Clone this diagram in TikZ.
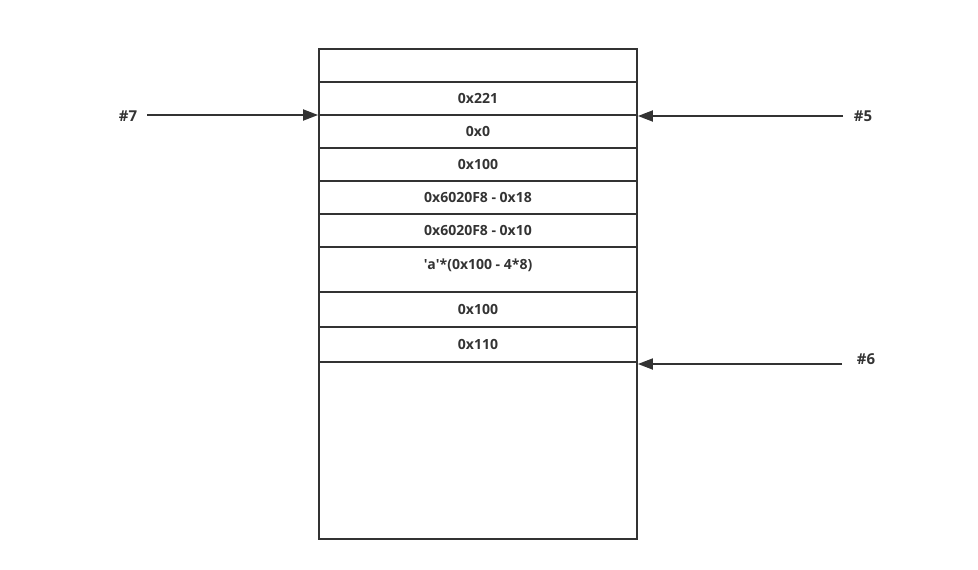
\documentclass[tikz,border=0pt]{standalone}
\usepackage{fontspec}
\setmainfont{Open Sans}
\usetikzlibrary{arrows.meta}

\definecolor{linegray}{HTML}{333333}
\tikzset{
  cell/.style={draw=linegray, line width=1.8pt, minimum width=318pt, inner sep=0pt,
               font=\fontsize{14}{16}\selectfont\bfseries, text=linegray, anchor=north},
  tag/.style={font=\fontsize{15}{17}\selectfont\bfseries, text=linegray},
  ptr/.style={draw=linegray, line width=1.8pt, -{Triangle[length=15pt,width=11pt]}}
}

\begin{document}
\begin{tikzpicture}[x=1pt, y=-1pt]
                \useasboundingbox (0,0) rectangle (978,570);
                \node[cell, minimum height=33pt] (r0) at (478,48) {};
                \node[cell, minimum height=33pt] (r1) at (478,81) {0x221};
                \node[cell, minimum height=33pt] (r2) at (478,114) {0x0};
                \node[cell, minimum height=33pt] (r3) at (478,147) {0x100};
                \node[cell, minimum height=33pt] (r4) at (478,180) {0x6020F8 - 0x18};
                \node[cell, minimum height=33pt] (r5) at (478,213) {0x6020F8 - 0x10};
                \node[cell, minimum height=45pt, text depth=10pt] (r6) at (478,246) {\textquotesingle a\textquotesingle*(0x100 - 4*8)};
                \node[cell, minimum height=35pt] (r7) at (478,291) {0x100};
                \node[cell, minimum height=35pt] (r8) at (478,326) {0x110};
                \node[cell, minimum height=177pt] (r9) at (478,361) {};
                \node[tag] (h7) at (128,116) {\#7};
                \node[tag] (h5) at (863,116) {\#5};
                \node[tag] (h6) at (866,359) {\#6};
                \coordinate (s7) at (147,115);
                \coordinate (s5) at (843,116);
                \coordinate (s6) at (842,364);
                \draw[ptr] (s7) -- (s7 -| r2.west);
                \draw[ptr] (s5) -- (s5 -| r2.east);
                \draw[ptr] (s6) -- (s6 -| r9.east);
            \end{tikzpicture}
\end{document}
